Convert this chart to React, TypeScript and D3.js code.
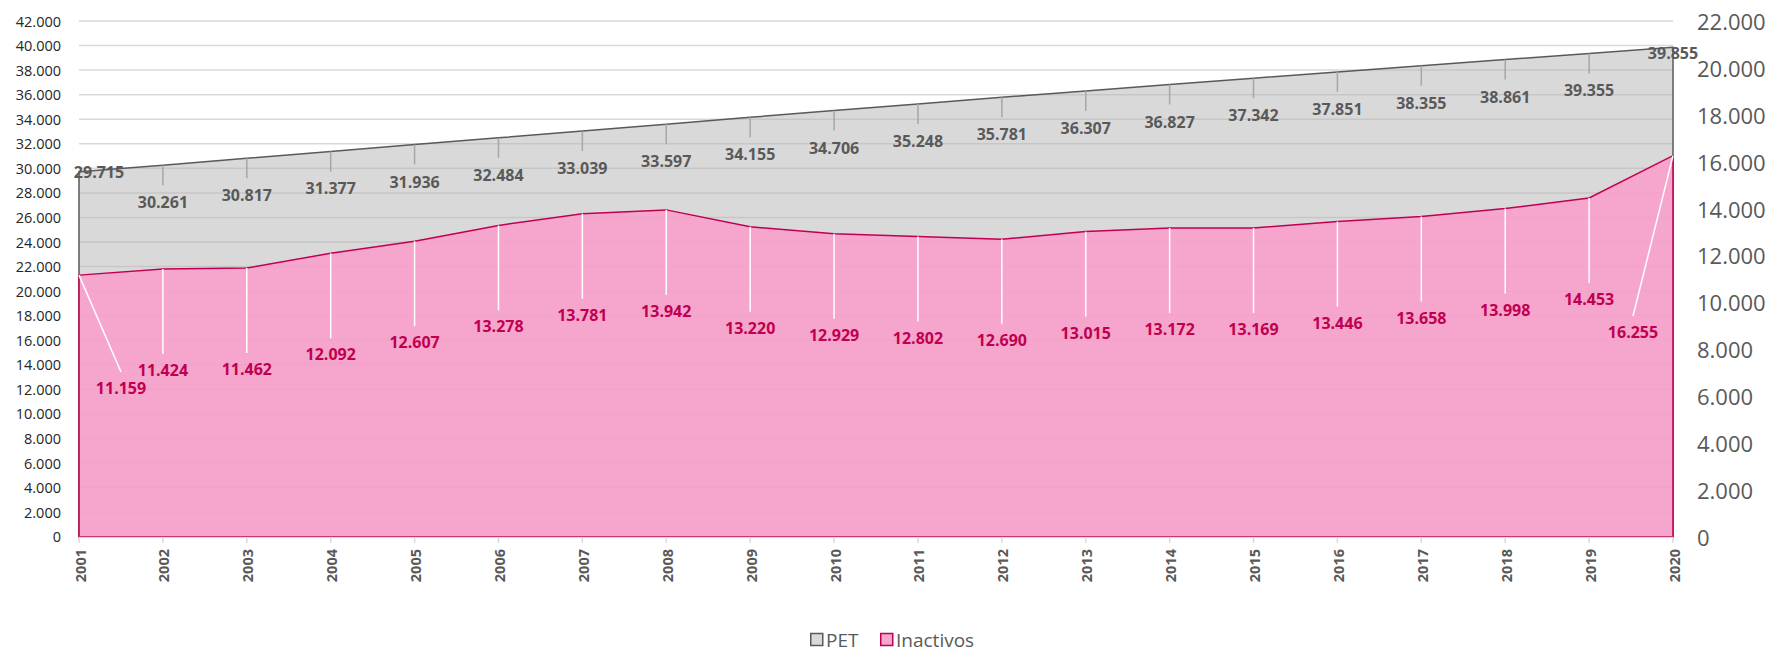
import React, { useEffect, useRef } from "react";
import { select, scaleLinear, scalePoint, area, line, range, format } from "d3";

const years = [
  "2001", "2002", "2003", "2004", "2005", "2006", "2007", "2008", "2009", "2010",
  "2011", "2012", "2013", "2014", "2015", "2016", "2017", "2018", "2019", "2020",
];
const pet = [
  29715, 30261, 30817, 31377, 31936, 32484, 33039, 33597, 34155, 34706,
  35248, 35781, 36307, 36827, 37342, 37851, 38355, 38861, 39355, 39855,
];
const inactivos = [
  11159, 11424, 11462, 12092, 12607, 13278, 13781, 13942, 13220, 12929,
  12802, 12690, 13015, 13172, 13169, 13446, 13658, 13998, 14453, 16255,
];
const leftTicks = range(0, 42001, 2000);
const rightTicks = range(0, 22001, 2000);

const W = 1771;
const H = 653;
const FONT = "'Open Sans', 'Noto Sans', sans-serif";
const PINK_LINE = "#c0004f";

// es-style thousands: 42.000
const fmt = (v: number) => (v === 0 ? "0" : format(",")(v).replace(/,/g, "."));

const App = () => {
  const svgRef = useRef<SVGSVGElement>(null);

  useEffect(() => {
    const svg = select(svgRef.current);
    svg.selectAll("*").remove();

    const x = scalePoint<string>().domain(years).range([79, 1673]);
    const yL = scaleLinear().domain([0, 42000]).range([536.7, 21]);
    const yR = scaleLinear().domain([0, 22000]).range([536.7, 21]);

    // gridlines
    svg
      .append("g")
      .selectAll("line")
      .data(leftTicks)
      .join("line")
      .attr("x1", 79)
      .attr("x2", 1673)
      .attr("y1", (d) => yL(d))
      .attr("y2", (d) => yL(d))
      .attr("stroke", "#d9d9d9")
      .attr("stroke-width", 1.5);

    // PET area (left axis)
    const petArea = area<number>()
      .x((_, i) => x(years[i])!)
      .y0(yL(0))
      .y1((d) => yL(d));
    svg
      .append("path")
      .datum(pet)
      .attr("d", petArea)
      .attr("fill", "#b3b3b3")
      .attr("fill-opacity", 0.5)
      .attr("stroke", "#595959")
      .attr("stroke-width", 1.5);

    // Inactivos area (right axis)
    const inaArea = area<number>()
      .x((_, i) => x(years[i])!)
      .y0(yR(0))
      .y1((d) => yR(d));
    svg
      .append("path")
      .datum(inactivos)
      .attr("d", inaArea)
      .attr("fill", "#fa9ccb")
      .attr("fill-opacity", 0.86)
      .attr("stroke", PINK_LINE)
      .attr("stroke-width", 1.5);

    // x axis line + ticks
    svg
      .append("line")
      .attr("x1", 79)
      .attr("x2", 1673)
      .attr("y1", 537.5)
      .attr("y2", 537.5)
      .attr("stroke", "#d9d9d9")
      .attr("stroke-width", 1.5);
    svg
      .append("g")
      .selectAll("line")
      .data(years)
      .join("line")
      .attr("x1", (d) => x(d)!)
      .attr("x2", (d) => x(d)!)
      .attr("y1", 537.5)
      .attr("y2", 543)
      .attr("stroke", "#d9d9d9")
      .attr("stroke-width", 1.5);

    // x labels
    svg
      .append("g")
      .selectAll("text")
      .data(years)
      .join("text")
      .attr("transform", (d) => `translate(${x(d)! + 1},549) rotate(-90)`)
      .attr("text-anchor", "end")
      .attr("dominant-baseline", "central")
      .attr("font-family", FONT)
      .attr("font-weight", "bold")
      .attr("font-size", 14.5)
      .attr("fill", "#595959")
      .text((d) => d);

    // left axis
    svg
      .append("g")
      .selectAll("text")
      .data(leftTicks)
      .join("text")
      .attr("x", 61)
      .attr("y", (d) => yL(d))
      .attr("text-anchor", "end")
      .attr("dominant-baseline", "central")
      .attr("font-family", FONT)
      .attr("font-size", 14.5)
      .attr("fill", "#262626")
      .text((d) => fmt(d));

    // right axis
    svg
      .append("g")
      .selectAll("text")
      .data(rightTicks)
      .join("text")
      .attr("x", 1697)
      .attr("y", (d) => yR(d))
      .attr("text-anchor", "start")
      .attr("dominant-baseline", "central")
      .attr("font-family", FONT)
      .attr("font-size", 22)
      .attr("fill", "#595959")
      .text((d) => fmt(d));

    // PET labels
    const last = years.length - 1;
    const petLbl = pet.map((v, i) => {
      const px = x(years[i])!;
      const py = yL(v);
      if (i === 0) return { v, px, py, lx: px + 20, ly: py, leader: false };
      if (i === last) return { v, px, py, lx: px, ly: py + 6, leader: false };
      return { v, px, py, lx: px, ly: py + 37, leader: true };
    });
    svg
      .append("g")
      .selectAll("line")
      .data(petLbl.filter((d) => d.leader))
      .join("line")
      .attr("x1", (d) => d.px)
      .attr("x2", (d) => d.lx)
      .attr("y1", (d) => d.py)
      .attr("y2", (d) => d.ly - 17)
      .attr("stroke", "#a6a6a6")
      .attr("stroke-width", 1.5);
    svg
      .append("g")
      .selectAll("text")
      .data(petLbl)
      .join("text")
      .attr("x", (d) => d.lx)
      .attr("y", (d) => d.ly)
      .attr("text-anchor", "middle")
      .attr("dominant-baseline", "central")
      .attr("font-family", FONT)
      .attr("font-weight", "bold")
      .attr("font-size", 16)
      .attr("fill", "#595959")
      .text((d) => fmt(d.v));

    // Inactivos labels
    const inaLbl = inactivos.map((v, i) => {
      const px = x(years[i])!;
      const py = yR(v);
      if (i === 0) return { v, px, py, lx: px + 42, ly: 388 };
      if (i === last) return { v, px, py, lx: px - 40, ly: 332 };
      return { v, px, py, lx: px, ly: py + 101 };
    });
    const leader = line<{ x: number; y: number }>()
      .x((d) => d.x)
      .y((d) => d.y);
    svg
      .append("g")
      .selectAll("path")
      .data(inaLbl)
      .join("path")
      .attr("d", (d) =>
        leader([
          { x: d.px, y: d.py },
          { x: d.lx, y: d.ly - 16 },
        ])
      )
      .attr("stroke", "#ffffff")
      .attr("stroke-width", 1.5)
      .attr("fill", "none");
    svg
      .append("g")
      .selectAll("text")
      .data(inaLbl)
      .join("text")
      .attr("x", (d) => d.lx)
      .attr("y", (d) => d.ly)
      .attr("text-anchor", "middle")
      .attr("dominant-baseline", "central")
      .attr("font-family", FONT)
      .attr("font-weight", "bold")
      .attr("font-size", 16)
      .attr("fill", PINK_LINE)
      .text((d) => fmt(d.v));

    // legend
    const legend = [
      { name: "PET", fill: "#d9d9d9", stroke: "#595959", x: 810 },
      { name: "Inactivos", fill: "#f7a6cf", stroke: PINK_LINE, x: 880 },
    ];
    const lg = svg.append("g").selectAll("g").data(legend).join("g");
    lg.append("rect")
      .attr("x", (d) => d.x + 0.75)
      .attr("y", 633.5)
      .attr("width", 12)
      .attr("height", 12)
      .attr("fill", (d) => d.fill)
      .attr("stroke", (d) => d.stroke)
      .attr("stroke-width", 1.5);
    lg.append("text")
      .attr("x", (d) => d.x + 16)
      .attr("y", 639.5)
      .attr("dominant-baseline", "central")
      .attr("font-family", FONT)
      .attr("font-size", 19)
      .attr("fill", "#595959")
      .text((d) => d.name);
  }, []);

  return (
    <svg
      ref={svgRef}
      width={W}
      height={H}
      style={{ position: "absolute", left: 0, top: 0, background: "#fff" }}
    />
  );
};

export default App;
